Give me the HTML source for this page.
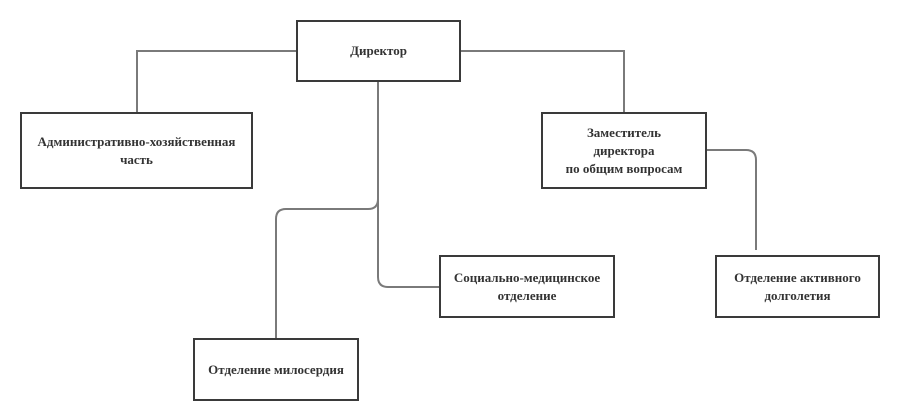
<!DOCTYPE html>
<html><head><meta charset="utf-8"><style>
body{margin:0;background:#fff;width:900px;height:420px;overflow:hidden;position:relative;font-family:"Liberation Serif",serif;}
.b{position:absolute;box-sizing:border-box;border:2px solid #3a3a3a;background:#fff;display:flex;align-items:center;justify-content:center;text-align:center;font-weight:bold;font-size:13px;line-height:18px;color:#333;}
svg{position:absolute;left:0;top:0}
</style></head><body>
<svg width="900" height="420"><g fill="none" stroke="#7a7a7a" stroke-width="2">
<path d="M296 51H137V112"/>
<path d="M460 51H624V112"/>
<path d="M378 81V199Q378 209 368 209H286Q276 209 276 219V338"/>
<path d="M378 195V277Q378 287 388 287H439"/>
<path d="M706 150H746Q756 150 756 160V250"/>
</g></svg>
<div class="b" style="left:296px;top:20px;width:165px;height:62px">Директор</div>
<div class="b" style="left:20px;top:112px;width:233px;height:77px">Административно-хозяйственная<br>часть</div>
<div class="b" style="left:541px;top:112px;width:166px;height:77px">Заместитель<br>директора<br>по общим вопросам</div>
<div class="b" style="left:439px;top:255px;width:176px;height:63px">Социально-медицинское<br>отделение</div>
<div class="b" style="left:715px;top:255px;width:165px;height:63px">Отделение активного<br>долголетия</div>
<div class="b" style="left:193px;top:338px;width:166px;height:63px">Отделение милосердия</div>
</body></html>
